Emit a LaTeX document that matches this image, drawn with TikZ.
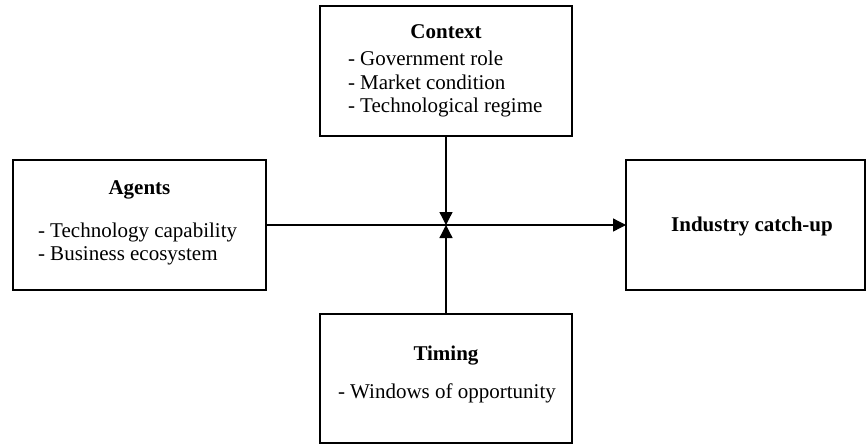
\documentclass[tikz,border=0pt]{standalone}
\usepackage{fontspec}
\setmainfont{Liberation Serif}
\usetikzlibrary{arrows.meta}
\begin{document}
\begin{tikzpicture}[x=1pt,y=-1pt,
  box/.style={draw=black,line width=1.7pt,rectangle,inner sep=0pt,outer sep=0pt},
  txt/.style={inner sep=0pt,outer sep=0pt,font=\fontsize{21}{24}\selectfont},
  head/.style={txt,font=\fontsize{21}{24}\selectfont\bfseries,anchor=base},
  item/.style={txt,anchor=base west},
  arr/.style={draw=black,line width=1.3pt,-{Triangle[length=13pt,width=13pt]}}]
\useasboundingbox (0,0) rectangle (866,445);
% boxes
\node[box,minimum width=252pt,minimum height=130pt] (ctx) at (446,71) {};
\node[box,minimum width=253pt,minimum height=130pt] (ag) at (139.5,225) {};
\node[box,minimum width=239pt,minimum height=130pt] (ind) at (745.5,225) {};
\node[box,minimum width=252pt,minimum height=129pt] (tim) at (446,378.5) {};
% texts
\node[head] (ctxh) at (446,38.5) {Context};
\node[item] (ctx1) at (348,65.5) {- Government role};
\node[item] (ctx2) at (348,89) {- Market condition};
\node[item] (ctx3) at (348,112.5) {- Technological regime};
\node[head] (agh) at (139.5,194) {Agents};
\node[item] (ag1) at (38,237) {- Technology capability};
\node[item] (ag2) at (38,260.5) {- Business ecosystem};
\node[head] (indh) at (752,231) {Industry catch-up};
\node[head] (timh) at (446,360) {Timing};
\node[item] (tim1) at (338,398) {- Windows of opportunity};
% connectors
\coordinate (m) at (446,225);
\draw[arr] (ag.east) -- (ind.west);
\draw[arr] (ctx.south) -- (m);
\draw[arr] (tim.north) -- (m);
\end{tikzpicture}
\end{document}
